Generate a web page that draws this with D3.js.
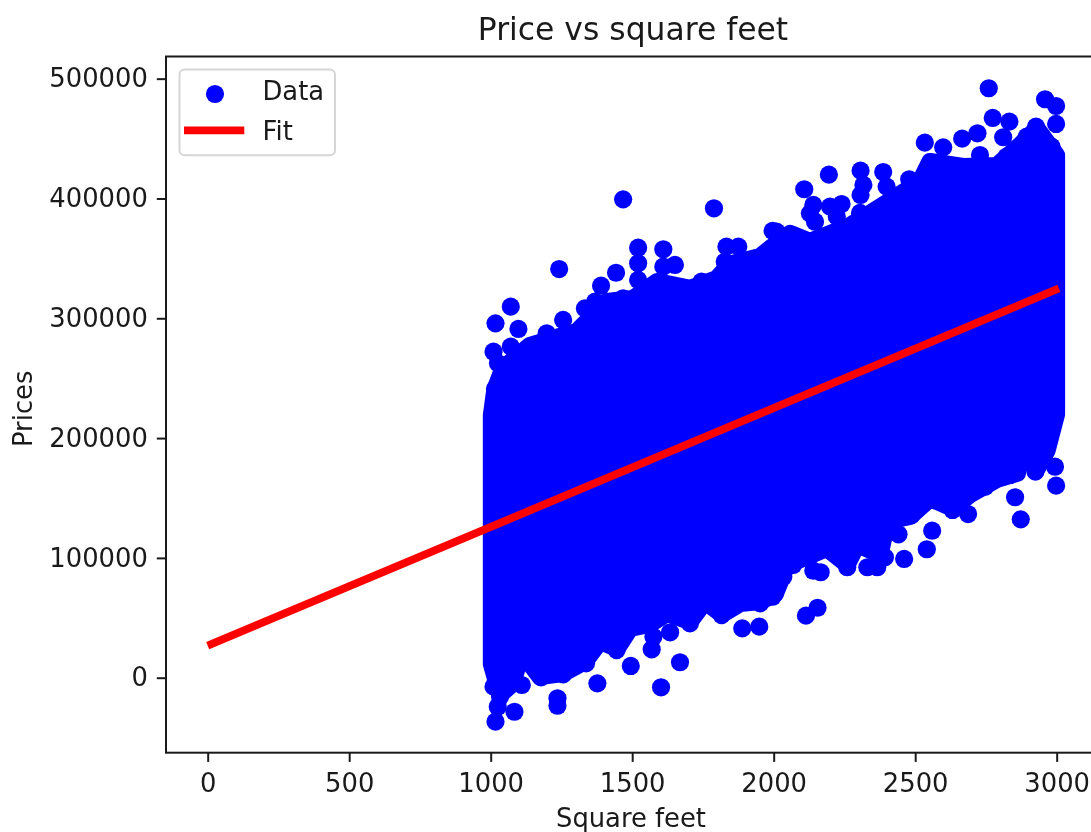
<!DOCTYPE html>
<html>
<head>
<meta charset="utf-8">
<title>Price vs square feet</title>
<script src="https://cdnjs.cloudflare.com/ajax/libs/d3/7.8.5/d3.min.js"></script>
<style>
    body { margin: 0; background: #fff; overflow: hidden; }
    svg { display: block; filter: blur(0.45px); }
    text { font-family: "DejaVu Sans", sans-serif; fill: #1a1a1a; }
</style>
</head>
<body>
<div id="chart"></div>
<script>
// points that stand clear of the solid mass
var sqft = [1468, 1789, 1242, 1071, 1017, 1098, 1010, 1071, 1198, 1256, 1333, 1390, 1443, 1521, 1521, 1521, 1610, 1651, 1610, 1745, 1833, 1875, 1827, 1996, 1468, 1369,
    2760, 2959, 2998, 2998, 2774, 2833, 2811, 2720, 2666, 2534, 2599, 2729, 2558, 2307, 2387, 2479, 2195, 2108, 2317, 2307, 2140, 2240, 2199, 2128, 2146, 2010, 2927, 2894, 2982, 2823, 2399, 2223, 2305,
    1017, 1084, 1025, 1236, 1236, 1377, 1602, 1495, 1669, 1634, 1569, 1575, 1445, 1704, 1816, 1889, 1949, 1952, 1996, 1110, 1178, 1256, 1337, 1033, 1010, 1010,
    2114, 2155, 2998, 2873, 2853, 2687, 2632, 2560, 2541, 2461, 2441, 2366, 2331, 2260, 2166, 2140, 2004, 2393, 2487, 2925, 2994, 2835, 2069, 2747, 2564, 2034,
    1026, 1015, 1012];
var prices = [399300, 391800, 341100, 309700, 295800, 291100, 272100, 276300, 287500, 298600, 308300, 327200, 338000, 358900, 345900, 332000, 357600, 344500, 343100, 330600, 359800, 359800, 347200, 372900, 316700, 313900,
    492000, 482800, 477200, 462200, 467200, 464100, 451100, 454400, 449900, 446600, 442700, 436300, 426500, 423200, 422100, 416000, 419900, 407700, 411300, 402900, 394600, 395400, 393200, 387600, 380600, 372300, 459900, 451600, 443200, 434900, 409900, 384800, 387900,
    -36700, -28400, -24200, -17200, -23400, -4700, -8000, 9800, 12900, 37900, 23700, 34200, 23100, 45400, 52300, 41200, 42600, 62100, 67600, -6100, 300, 2800, 12000, -15900, 7800, -7500,
    51800, 58400, 160300, 132200, 150600, 136600, 140000, 122700, 107200, 99100, 119700, 92200, 92200, 92200, 88000, 89300, 70500, 100500, 135800, 172000, 176100, 169200, 94100, 159400, 148300, 84300,
    262500, 241000, 230000];

// too many points overlap in the middle to read one by one, so the solid part is its upper and lower edge
var upperSqft = [1004, 1016, 1044, 1139, 1244, 1305, 1411, 1503, 1588, 1704, 1800, 1845, 1952, 1987, 2058, 2128, 2270, 2351, 2518, 2553, 2669, 2789, 2870, 2930, 2998];
var upperPrice = [219000, 240000, 257700, 276900, 284400, 288600, 313600, 316100, 330300, 324500, 332800, 345000, 351200, 357800, 370400, 363700, 377000, 388800, 413800, 430500, 426300, 427100, 443900, 458000, 436000];
var lowerSqft = [1004, 1034, 1074, 1104, 1134, 1174, 1255, 1333, 1386, 1446, 1492, 1562, 1623, 1704, 1757, 1817, 1882, 1952, 2004, 2047, 2104, 2188, 2259, 2295, 2375, 2400, 2482, 2553, 2634, 2694, 2789, 2860, 2870, 2930, 2965, 2998];
var lowerPrice = [11400, -13600, -5300, 16400, 13900, 1400, 3900, 13900, 30600, 24800, 41500, 44800, 54000, 47300, 64000, 53200, 62400, 64000, 69900, 94900, 99900, 108300, 94900, 111600, 103300, 130800, 135000, 150000, 141700, 153300, 165900, 170900, 186700, 175000, 190000, 220000];

var fitSqft = [0, 3008];
var fitPrice = [26700, 325000];

var xTicks = [0, 500, 1000, 1500, 2000, 2500, 3000];
var yTicks = [0, 100000, 200000, 300000, 400000, 500000];

var width = 1091, height = 832;
var left = 166, right = 1101, top_ = 56.5, bottom = 752.7;   // right edge of the axes falls off the page, same as the picture
var fontSize = 25.8;

var svg = d3.select("#chart").append("svg")
    .attr("width", width)
    .attr("height", height);

var x = d3.scaleLinear().domain([-147.3, 3156.6]).range([left, right]);
var y = d3.scaleLinear().domain([-62600, 518500]).range([bottom, top_]);

var line = d3.line()
    .x(function (d) { return x(d[0]); })
    .y(function (d) { return y(d[1]); });

// solid mass, stroke as wide as a marker so the edge runs through marker centres
var upper = upperSqft.map(function (d, i) { return [d, upperPrice[i]]; });
var lower = lowerSqft.map(function (d, i) { return [d, lowerPrice[i]]; }).reverse();
svg.append("path")
    .attr("d", line(upper.concat(lower)) + "Z")
    .attr("fill", "#0000ff")
    .attr("stroke", "#0000ff")
    .attr("stroke-width", 18)
    .attr("stroke-linejoin", "round");

svg.append("g").selectAll("circle")
    .data(sqft)
    .enter().append("circle")
    .attr("cx", function (d) { return x(d); })
    .attr("cy", function (d, i) { return y(prices[i]); })
    .attr("r", 9.1)
    .attr("fill", "#0000ff");

svg.append("path")
    .attr("d", line(fitSqft.map(function (d, i) { return [d, fitPrice[i]]; })))
    .attr("fill", "none")
    .attr("stroke", "#ff0000")
    .attr("stroke-width", 7.85);

// axes
var xAxis = svg.append("g")
    .attr("transform", "translate(0," + bottom + ")")
    .call(d3.axisBottom(x).tickValues(xTicks).tickFormat(d3.format("d")).tickSize(9.2).tickPadding(11.5));
var yAxis = svg.append("g")
    .attr("transform", "translate(" + left + ",0)")
    .call(d3.axisLeft(y).tickValues(yTicks).tickFormat(d3.format("d")).tickSize(9.2).tickPadding(9));

[xAxis, yAxis].forEach(function (g) {
    g.selectAll(".domain").remove();
    g.selectAll("line").attr("stroke", "#1a1a1a").attr("stroke-width", 2);
    g.selectAll("text")
        .attr("font-family", "DejaVu Sans")
        .attr("font-size", fontSize)
        .attr("fill", "#1a1a1a");
});

svg.append("rect")
    .attr("x", left)
    .attr("y", top_)
    .attr("width", right - left)
    .attr("height", bottom - top_)
    .attr("fill", "none")
    .attr("stroke", "#1a1a1a")
    .attr("stroke-width", 2);

// titles
svg.append("text")
    .attr("x", 633)
    .attr("y", 40)
    .attr("text-anchor", "middle")
    .attr("font-size", 31.4)
    .text("Price vs square feet");

svg.append("text")
    .attr("x", 631)
    .attr("y", 826.5)
    .attr("text-anchor", "middle")
    .attr("font-size", fontSize)
    .text("Square feet");

svg.append("text")
    .attr("transform", "translate(31.7,408.8) rotate(-90)")
    .attr("text-anchor", "middle")
    .attr("font-size", fontSize)
    .text("Prices");

// legend
var legend = svg.append("g");
legend.append("rect")
    .attr("x", 179.5)
    .attr("y", 69.5)
    .attr("width", 155.5)
    .attr("height", 85.8)
    .attr("rx", 5)
    .attr("fill", "#fff")
    .attr("fill-opacity", 0.8)
    .attr("stroke", "#d6d6d6")
    .attr("stroke-width", 2);
legend.append("circle")
    .attr("cx", 215)
    .attr("cy", 94)
    .attr("r", 9.1)
    .attr("fill", "#0000ff");
legend.append("line")
    .attr("x1", 184)
    .attr("x2", 244.3)
    .attr("y1", 130.3)
    .attr("y2", 130.3)
    .attr("stroke", "#ff0000")
    .attr("stroke-width", 7.85);
legend.append("text")
    .attr("x", 262.5)
    .attr("y", 100)
    .attr("font-size", fontSize)
    .text("Data");
legend.append("text")
    .attr("x", 262.5)
    .attr("y", 140)
    .attr("font-size", fontSize)
    .text("Fit");
</script>
</body>
</html>
